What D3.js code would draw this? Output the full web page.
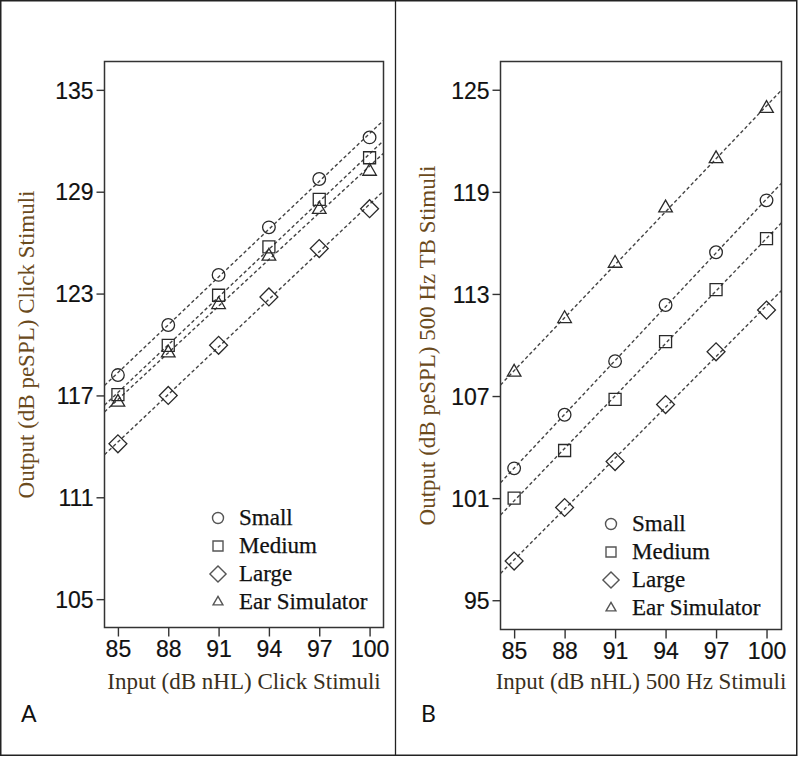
<!DOCTYPE html>
<html><head><meta charset="utf-8">
<script src="https://cdn.jsdelivr.net/npm/d3@7"></script>
<style>body{margin:0;background:#fff}svg{display:block}</style>
</head><body>
<script>
// ---------- data ----------
const inputLevels = [85, 88, 91, 94, 97, 100];
const seriesNames = ["Small", "Medium", "Large", "Ear Simulator"];
const seriesSymbols = ["circle", "square", "diamond", "triangle"];

const clickSmall  = [118.2, 121.15, 124.1, 126.9, 129.75, 132.2];
const clickMedium = [117.05, 119.95, 122.9, 125.75, 128.55, 131.0];
const clickLarge  = [114.15, 117.0, 119.95, 122.8, 125.65, 128.0];
const clickEar    = [116.6, 119.5, 122.35, 125.2, 127.95, 130.2];

const tbSmall  = [102.75, 105.9, 109.05, 112.35, 115.45, 118.5];
const tbMedium = [101.0, 103.8, 106.8, 110.2, 113.25, 116.25];
const tbLarge  = [97.3, 100.45, 103.15, 106.5, 109.6, 112.05];
const tbEar    = [108.4, 111.55, 114.8, 118.05, 120.95, 123.9];

const clickYTicks = [105, 111, 117, 123, 129, 135];
const tbYTicks = [95, 101, 107, 113, 119, 125];
const xTicks = [85, 88, 91, 94, 97, 100];

const panels = [
  { letter: "A", box: [104.5, 61.5, 383.5, 627.5], xDom: [84.2, 100.83], yDom: [103.33, 136.67],
    yTicks: clickYTicks, series: [clickSmall, clickMedium, clickLarge, clickEar],
    xTitle: "Input (dB nHL) Click Stimuli", yTitle: "Output (dB peSPL) Click Stimuli",
    legend: [218, 518], yTitleX: 26 },
  { letter: "B", box: [500.5, 61.5, 781.5, 629.5], xDom: [84.19, 100.89], yDom: [93.28, 126.66],
    yTicks: tbYTicks, series: [tbSmall, tbMedium, tbLarge, tbEar],
    xTitle: "Input (dB nHL) 500 Hz Stimuli", yTitle: "Output (dB peSPL) 500 Hz TB Stimuli",
    legend: [611, 524], yTitleX: 427 }
];

const W = 800, H = 758;
const svg = d3.select("body").append("svg").attr("width", W).attr("height", H);

// outer frame + divider
svg.append("rect").attr("x", 0.75).attr("y", 0.75).attr("width", 796).attr("height", 754.5)
  .attr("fill", "none").attr("stroke", "#222").attr("stroke-width", 1.5);
svg.append("line").attr("x1", 395.5).attr("x2", 395.5).attr("y1", 0).attr("y2", 755)
  .attr("stroke", "#222").attr("stroke-width", 1.3);

// diamond = square rotated 45deg
const symType = { circle: d3.symbolCircle, square: d3.symbolSquare, diamond: d3.symbolSquare, triangle: d3.symbolTriangle };
const symRot = { circle: 0, square: 0, diamond: 45, triangle: 0 };
const markSize = { circle: 125, square: 144, diamond: 160, triangle: 80 };
const legSize = { circle: 95, square: 100, diamond: 130, triangle: 42 };

function fit(xs, ys) {
  const mx = d3.mean(xs), my = d3.mean(ys);
  let sxy = 0, sxx = 0;
  xs.forEach((x, i) => { sxy += (x - mx) * (ys[i] - my); sxx += (x - mx) * (x - mx); });
  const b = sxy / sxx; return { b, a: my - b * mx };
}

panels.forEach((p, pi) => {
  const [l, t, r, b] = p.box;
  const x = d3.scaleLinear().domain(p.xDom).range([l, r]);
  const y = d3.scaleLinear().domain(p.yDom).range([b, t]);
  const g = svg.append("g");

  const clipId = "clip" + pi;
  svg.append("clipPath").attr("id", clipId).append("rect")
    .attr("x", l).attr("y", t).attr("width", r - l).attr("height", b - t);

  // axes
  const yAxis = d3.axisLeft(y).tickValues(p.yTicks).tickSize(8).tickPadding(3).tickFormat(d3.format("d"));
  const ya = g.append("g").attr("transform", `translate(${l},0)`).call(yAxis);
  const xAxis = d3.axisBottom(x).tickValues(xTicks).tickSize(9).tickPadding(4).tickFormat(d3.format("d"));
  const xa = g.append("g").attr("transform", `translate(0,${b})`).call(xAxis);
  [ya, xa].forEach(a => {
    a.select(".domain").remove();
    a.selectAll("line").attr("stroke", "#333").attr("stroke-width", 1.4);
    a.selectAll("text").attr("font-family", "Liberation Sans, Arial, sans-serif")
      .attr("font-size", 23).attr("fill", "#111").attr("stroke", "#111").attr("stroke-width", 0.2);
  });
  ya.selectAll("text").attr("dy", "0.36em");

  // frame
  g.append("rect").attr("x", l).attr("y", t).attr("width", r - l).attr("height", b - t)
    .attr("fill", "none").attr("stroke", "#333").attr("stroke-width", 1.5);

  // fit lines
  const lines = g.append("g").attr("clip-path", `url(#${clipId})`);
  p.series.forEach(s => {
    const f = fit(inputLevels, s);
    lines.append("line")
      .attr("x1", x(p.xDom[0])).attr("y1", y(f.a + f.b * p.xDom[0]))
      .attr("x2", x(p.xDom[1])).attr("y2", y(f.a + f.b * p.xDom[1]))
      .attr("stroke", "#444").attr("stroke-width", 1.4).attr("stroke-dasharray", "3.5,2.5");
  });

  // markers
  p.series.forEach((s, si) => {
    const st = seriesSymbols[si];
    g.append("g").selectAll("path").data(s).join("path")
      .attr("transform", (d, i) => `translate(${x(inputLevels[i])},${y(d)}) rotate(${symRot[st]})`)
      .attr("d", d3.symbol().type(symType[st]).size(markSize[st]))
      .attr("fill", "none").attr("stroke", "#2a2a2a").attr("stroke-width", 1.3);
  });

  // legend
  const lg = g.append("g");
  seriesNames.forEach((n, i) => {
    const st = seriesSymbols[i];
    const yy = p.legend[1] + i * 28;
    lg.append("path").attr("transform", `translate(${p.legend[0]},${yy}) rotate(${symRot[st]})`)
      .attr("d", d3.symbol().type(symType[st]).size(legSize[st]))
      .attr("fill", "none").attr("stroke", "#555").attr("stroke-width", 1.4);
    lg.append("text").attr("x", p.legend[0] + 21).attr("y", yy + 7)
      .attr("font-family", "Liberation Serif, Times New Roman, serif").attr("font-size", 23)
      .attr("fill", "#111").attr("stroke", "#111").attr("stroke-width", 0.25).text(n);
  });

  // titles
  g.append("text").attr("x", (l + r) / 2).attr("y", 689).attr("text-anchor", "middle")
    .attr("font-family", "Liberation Serif, Times New Roman, serif").attr("font-size", 23)
    .attr("fill", "#3a3020").text(p.xTitle);
  g.append("text").attr("transform", `translate(${p.yTitleX + 8},${(t + b) / 2}) rotate(-90)`)
    .attr("text-anchor", "middle")
    .attr("font-family", "Liberation Serif, Times New Roman, serif").attr("font-size", 23)
    .attr("fill", "#6a4a1c").text(p.yTitle);

  // panel letter
  g.append("text").attr("x", pi === 0 ? 21 : 421).attr("y", 722)
    .attr("font-family", "Lato, Open Sans, sans-serif").attr("font-size", 23)
    .attr("fill", "#111").text(p.letter);
});
</script>
</body></html>
